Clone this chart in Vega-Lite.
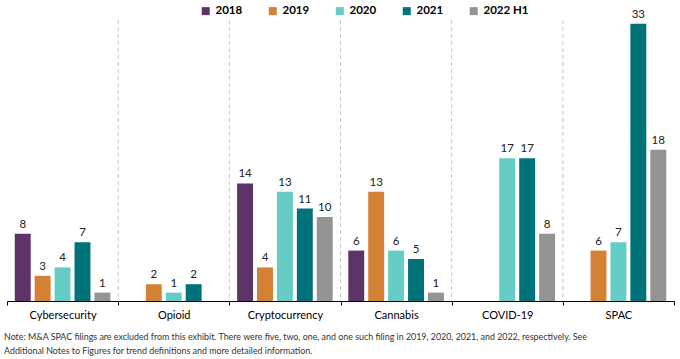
{
  "$schema": "https://vega.github.io/schema/vega-lite/v6.json",
  "width": 667,
  "height": 281,
  "autosize": {"type": "none"},
  "padding": {"left": 7, "top": 20, "right": 6, "bottom": 58},
  "background": "white",
  "config": {
    "view": {"stroke": null},
    "font": "Lato",
    "axisX": {
      "title": null,
      "tickBand": "extent",
      "domainColor": "#000000",
      "domainWidth": 1,
      "tickColor": "#000000",
      "tickSize": 4,
      "labelFontSize": 11,
      "labelColor": "#000000",
      "labelPadding": 4,
      "labelAngle": 0,
      "labelFont": "Lato"
    }
  },
  "title": {
    "text": [
      "Note: M&A SPAC filings are excluded from this exhibit. There were five, two, one, and one such filing in 2019, 2020, 2021, and 2022, respectively. See",
      "Additional Notes to Figures for trend definitions and more detailed information."
    ],
    "orient": "bottom",
    "anchor": "start",
    "frame": "group",
    "fontSize": 8.9,
    "fontWeight": "normal",
    "color": "#333333",
    "font": "Lato",
    "offset": 13,
    "lineHeight": 13.5,
    "dx": -3
  },
  "datasets": {
    "bars": [
      {"cat": "Cybersecurity", "year": "2018", "v": 8},
      {"cat": "Cybersecurity", "year": "2019", "v": 3},
      {"cat": "Cybersecurity", "year": "2020", "v": 4},
      {"cat": "Cybersecurity", "year": "2021", "v": 7},
      {"cat": "Cybersecurity", "year": "2022 H1", "v": 1},
      {"cat": "Opioid", "year": "2019", "v": 2},
      {"cat": "Opioid", "year": "2020", "v": 1},
      {"cat": "Opioid", "year": "2021", "v": 2},
      {"cat": "Cryptocurrency", "year": "2018", "v": 14},
      {"cat": "Cryptocurrency", "year": "2019", "v": 4},
      {"cat": "Cryptocurrency", "year": "2020", "v": 13},
      {"cat": "Cryptocurrency", "year": "2021", "v": 11},
      {"cat": "Cryptocurrency", "year": "2022 H1", "v": 10},
      {"cat": "Cannabis", "year": "2018", "v": 6},
      {"cat": "Cannabis", "year": "2019", "v": 13},
      {"cat": "Cannabis", "year": "2020", "v": 6},
      {"cat": "Cannabis", "year": "2021", "v": 5},
      {"cat": "Cannabis", "year": "2022 H1", "v": 1},
      {"cat": "COVID-19", "year": "2020", "v": 17},
      {"cat": "COVID-19", "year": "2021", "v": 17},
      {"cat": "COVID-19", "year": "2022 H1", "v": 8},
      {"cat": "SPAC", "year": "2019", "v": 6},
      {"cat": "SPAC", "year": "2020", "v": 7},
      {"cat": "SPAC", "year": "2021", "v": 33},
      {"cat": "SPAC", "year": "2022 H1", "v": 18}
    ],
    "seps": [
      {"cat": "Opioid"},
      {"cat": "Cryptocurrency"},
      {"cat": "Cannabis"},
      {"cat": "COVID-19"},
      {"cat": "SPAC"}
    ]
  },
  "layer": [
    {
      "data": {"name": "seps"},
      "mark": {"type": "rule", "strokeDash": [4, 3], "color": "#c8c8c8", "strokeWidth": 1},
      "encoding": {
        "x": {"field": "cat", "type": "nominal", "bandPosition": 0,
              "sort": ["Cybersecurity", "Opioid", "Cryptocurrency", "Cannabis", "COVID-19", "SPAC"]}
      }
    },
    {
      "data": {"name": "bars"},
      "mark": {"type": "bar"},
      "encoding": {
        "x": {"field": "cat", "type": "nominal",
              "sort": ["Cybersecurity", "Opioid", "Cryptocurrency", "Cannabis", "COVID-19", "SPAC"],
              "scale": {"domain": ["Cybersecurity", "Opioid", "Cryptocurrency", "Cannabis", "COVID-19", "SPAC"], "paddingInner": 0, "paddingOuter": 0}},
        "xOffset": {"field": "year", "type": "nominal",
                    "scale": {"domain": ["2018", "2019", "2020", "2021", "2022 H1"], "paddingInner": 0.2, "paddingOuter": 0.39}},
        "y": {"field": "v", "type": "quantitative", "axis": null, "scale": {"domain": [0, 33.45], "nice": false}},
        "color": {"field": "year", "type": "nominal",
                  "scale": {"domain": ["2018", "2019", "2020", "2021", "2022 H1"],
                            "range": ["#5e3468", "#d58135", "#64ccc5", "#00737a", "#939393"]},
                  "legend": {"title": null, "orient": "none", "direction": "horizontal",
                             "legendX": 193, "legendY": -15, "symbolType": "square", "symbolSize": 64,
                             "symbolStrokeWidth": 0, "labelFontSize": 11.5, "labelColor": "#000000",
                             "labelFont": "Lato", "labelFontWeight": "bold", "columnPadding": 24, "labelOffset": 4}}
      }
    },
    {
      "data": {"name": "bars"},
      "mark": {"type": "text", "baseline": "bottom", "dy": -4, "fontSize": 11.5, "color": "#222222", "font": "Lato"},
      "encoding": {
        "x": {"field": "cat", "type": "nominal",
              "sort": ["Cybersecurity", "Opioid", "Cryptocurrency", "Cannabis", "COVID-19", "SPAC"]},
        "xOffset": {"field": "year", "type": "nominal"},
        "y": {"field": "v", "type": "quantitative"},
        "text": {"field": "v", "type": "quantitative"}
      }
    }
  ]
}
